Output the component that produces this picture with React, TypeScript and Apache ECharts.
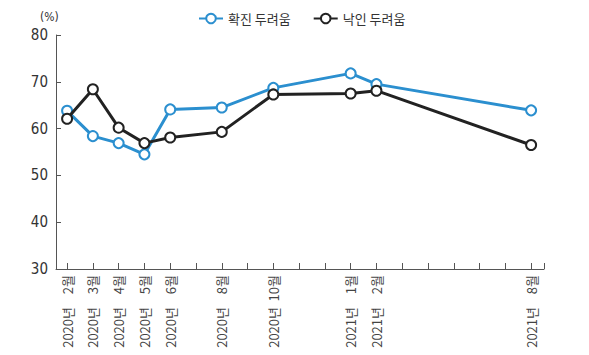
import React, { useEffect, useRef } from "react";
import * as echarts from "echarts";

// month index counted from 2020-02
const monthIdx = [0, 1, 2, 3, 4, 6, 8, 11, 12, 18];
const yearLabels = ["2020년", "2020년", "2020년", "2020년", "2020년", "2020년", "2020년", "2021년", "2021년", "2021년"];
const monthLabels = ["2월", "3월", "4월", "5월", "6월", "8월", "10월", "1월", "2월", "8월"];
const confirmFear = [63.8, 58.4, 56.9, 54.5, 64.1, 64.5, 68.7, 71.8, 69.5, 63.9];
const stigmaFear = [62.1, 68.4, 60.2, 56.9, 58.1, 59.3, 67.3, 67.5, 68.1, 56.5];
const seriesNames = ["확진 두려움", "낙인 두려움"];
const tickMonths = [0, 1, 2, 3, 4, 5, 6, 7, 8, 9, 10, 11, 12, 13, 14, 15, 16, 17, 18, 18.5];

export default function App() {
  const ref = useRef<HTMLDivElement>(null);
  useEffect(() => {
    if (!ref.current) return;
    const chart = echarts.init(ref.current, null, { renderer: "svg" });
    const cjk = "'Noto Sans CJK KR', 'Noto Sans', sans-serif";
    const mkData = (vals: number[]) => vals.map((v, i) => [monthIdx[i], v]);
    const labelFor = (v: number) => {
      const i = monthIdx.indexOf(v);
      return i < 0 ? "" : `{y|${yearLabels[i]}}{m|${monthLabels[i]}}`;
    };
    chart.setOption({
      animation: false,
      backgroundColor: "#ffffff",
      legend: {
        left: 193,
        top: 7,
        itemWidth: 24,
        itemHeight: 12,
        itemGap: 22,
        textStyle: { fontFamily: cjk, fontSize: 13, color: "#333" },
        data: seriesNames,
      },
      graphic: [
        {
          type: "text",
          left: 40,
          top: 11,
          style: { text: "(%)", fontSize: 12, fontFamily: "'DejaVu Sans Condensed', 'DejaVu Sans', sans-serif", fill: "#333" },
        },
      ],
      grid: { left: 56, right: 45, top: 35, bottom: 86, outerBoundsMode: "none" },
      xAxis: {
        type: "value",
        min: -0.43,
        max: 18.5,
        splitLine: { show: false },
        axisLine: { onZero: false, lineStyle: { color: "#555", width: 1 } },
        axisTick: { inside: true, length: 6, customValues: tickMonths, lineStyle: { color: "#555" } },
        axisLabel: {
          customValues: monthIdx,
          rotate: 90,
          margin: 6,
          formatter: labelFor,
          color: "#444",
          fontFamily: cjk,
          fontSize: 13,
          rich: {
            y: { fontFamily: cjk, fontSize: 13, color: "#444", align: "left" },
            m: { fontFamily: cjk, fontSize: 13, color: "#444", width: 32, align: "right" },
          },
        },
      },
      yAxis: {
        type: "value",
        min: 30,
        max: 80,
        interval: 10,
        splitLine: { show: false },
        axisLine: { show: true, onZero: false, lineStyle: { color: "#555", width: 1 } },
        axisTick: { show: true, inside: true, length: 5, lineStyle: { color: "#555" } },
        axisLabel: {
          margin: 8,
          color: "#333",
          fontSize: 15,
          fontFamily: "'DejaVu Sans Condensed', 'Liberation Sans Narrow', 'DejaVu Sans', sans-serif",
        },
      },
      series: [
        {
          name: seriesNames[0],
          type: "line",
          data: mkData(confirmFear),
          symbol: "circle",
          symbolSize: 10,
          lineStyle: { color: "#2b8fcf", width: 3 },
          itemStyle: { color: "#ffffff", borderColor: "#2b8fcf", borderWidth: 2 },
          z: 2,
        },
        {
          name: seriesNames[1],
          type: "line",
          data: mkData(stigmaFear),
          symbol: "circle",
          symbolSize: 10,
          lineStyle: { color: "#222222", width: 3 },
          itemStyle: { color: "#ffffff", borderColor: "#222222", borderWidth: 2 },
          z: 3,
        },
      ],
    });
    return () => chart.dispose();
  }, []);
  return <div ref={ref} style={{ position: "fixed", left: 0, top: 0, width: 589, height: 355 }} />;
}
